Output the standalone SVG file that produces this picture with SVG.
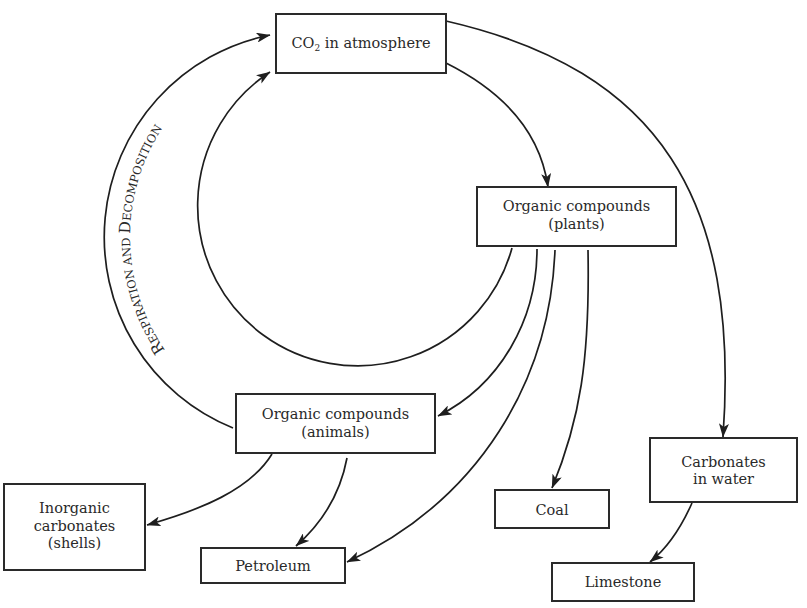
<svg xmlns="http://www.w3.org/2000/svg" width="807" height="608" viewBox="0 0 807 608">
<style>
.box{fill:#fff;stroke:#2a2a2a;stroke-width:2}
.t{font-family:"DejaVu Serif","Liberation Serif",serif;font-size:14.5px;fill:#2a2a2a;text-anchor:middle}
.c{fill:none;stroke:#1e1e1e;stroke-width:1.7;marker-end:url(#ah)}
.lab{font-family:"DejaVu Serif","Liberation Serif",serif;fill:#2a2a2a}
</style>
<defs>
<marker id="ah" viewBox="0 0 14 10" refX="13.5" refY="5" markerWidth="14" markerHeight="10" markerUnits="userSpaceOnUse" orient="auto">
<path d="M0,0 L14,5 L0,10 L3.5,5 z" fill="#1e1e1e"/>
</marker>
<path id="arcText" d="M165,350 A200,200 0 0 1 165,124"/>
</defs>
<rect width="807" height="608" fill="#fff"/>
<g id="connectors">
<path class="c" d="M446,63 C500,90 540,130 548,187"/>
<path class="c" d="M446,21 C660,70 740,200 723,437"/>
<path class="c" d="M512,248 A160,160 0 1 1 270,72"/>
<path class="c" d="M233,428 A206,206 0 0 1 270,35"/>
<path class="c" d="M537,249 C537,320 500,385 438,416"/>
<path class="c" d="M555,250 C550,380 480,500 347,562"/>
<path class="c" d="M588,250 C590,360 580,420 552,488"/>
<path class="c" d="M272,454 C250,490 200,510 147,525"/>
<path class="c" d="M347,458 C340,495 320,525 296,546"/>
<path class="c" d="M692,503 C680,530 665,550 650,562"/>
<text class="lab" font-size="11.5"><textPath href="#arcText"><tspan font-size="15.5">R</tspan>ESPIRATION AND <tspan font-size="15.5">D</tspan>ECOMPOSITION</textPath></text>
</g>
<g id="co2">
<rect class="box" x="276" y="14" width="170" height="59"/>
<text class="t" x="361" y="48">CO<tspan font-size="9" dy="3">2</tspan><tspan dy="-3"> in atmosphere</tspan></text>
</g>
<g id="plants">
<rect class="box" x="477" y="187" width="199" height="59"/>
<text class="t" x="576.5" y="211">Organic compounds</text>
<text class="t" x="576.5" y="229">(plants)</text>
</g>
<g id="animals">
<rect class="box" x="236" y="394" width="199" height="59"/>
<text class="t" x="335.5" y="419">Organic compounds</text>
<text class="t" x="335.5" y="437">(animals)</text>
</g>
<g id="inorganic">
<rect class="box" x="4" y="484" width="141" height="86"/>
<text class="t" x="74.5" y="513">Inorganic</text>
<text class="t" x="74.5" y="531">carbonates</text>
<text class="t" x="74.5" y="548">(shells)</text>
</g>
<g id="petroleum">
<rect class="box" x="201" y="548" width="144" height="35"/>
<text class="t" x="273" y="571">Petroleum</text>
</g>
<g id="coal">
<rect class="box" x="495" y="490" width="114" height="38"/>
<text class="t" x="552" y="515">Coal</text>
</g>
<g id="carbonates">
<rect class="box" x="650" y="438" width="147" height="64"/>
<text class="t" x="723.5" y="467">Carbonates</text>
<text class="t" x="723.5" y="484">in water</text>
</g>
<g id="limestone">
<rect class="box" x="552" y="563" width="142" height="38"/>
<text class="t" x="623" y="587">Limestone</text>
</g>
</svg>
